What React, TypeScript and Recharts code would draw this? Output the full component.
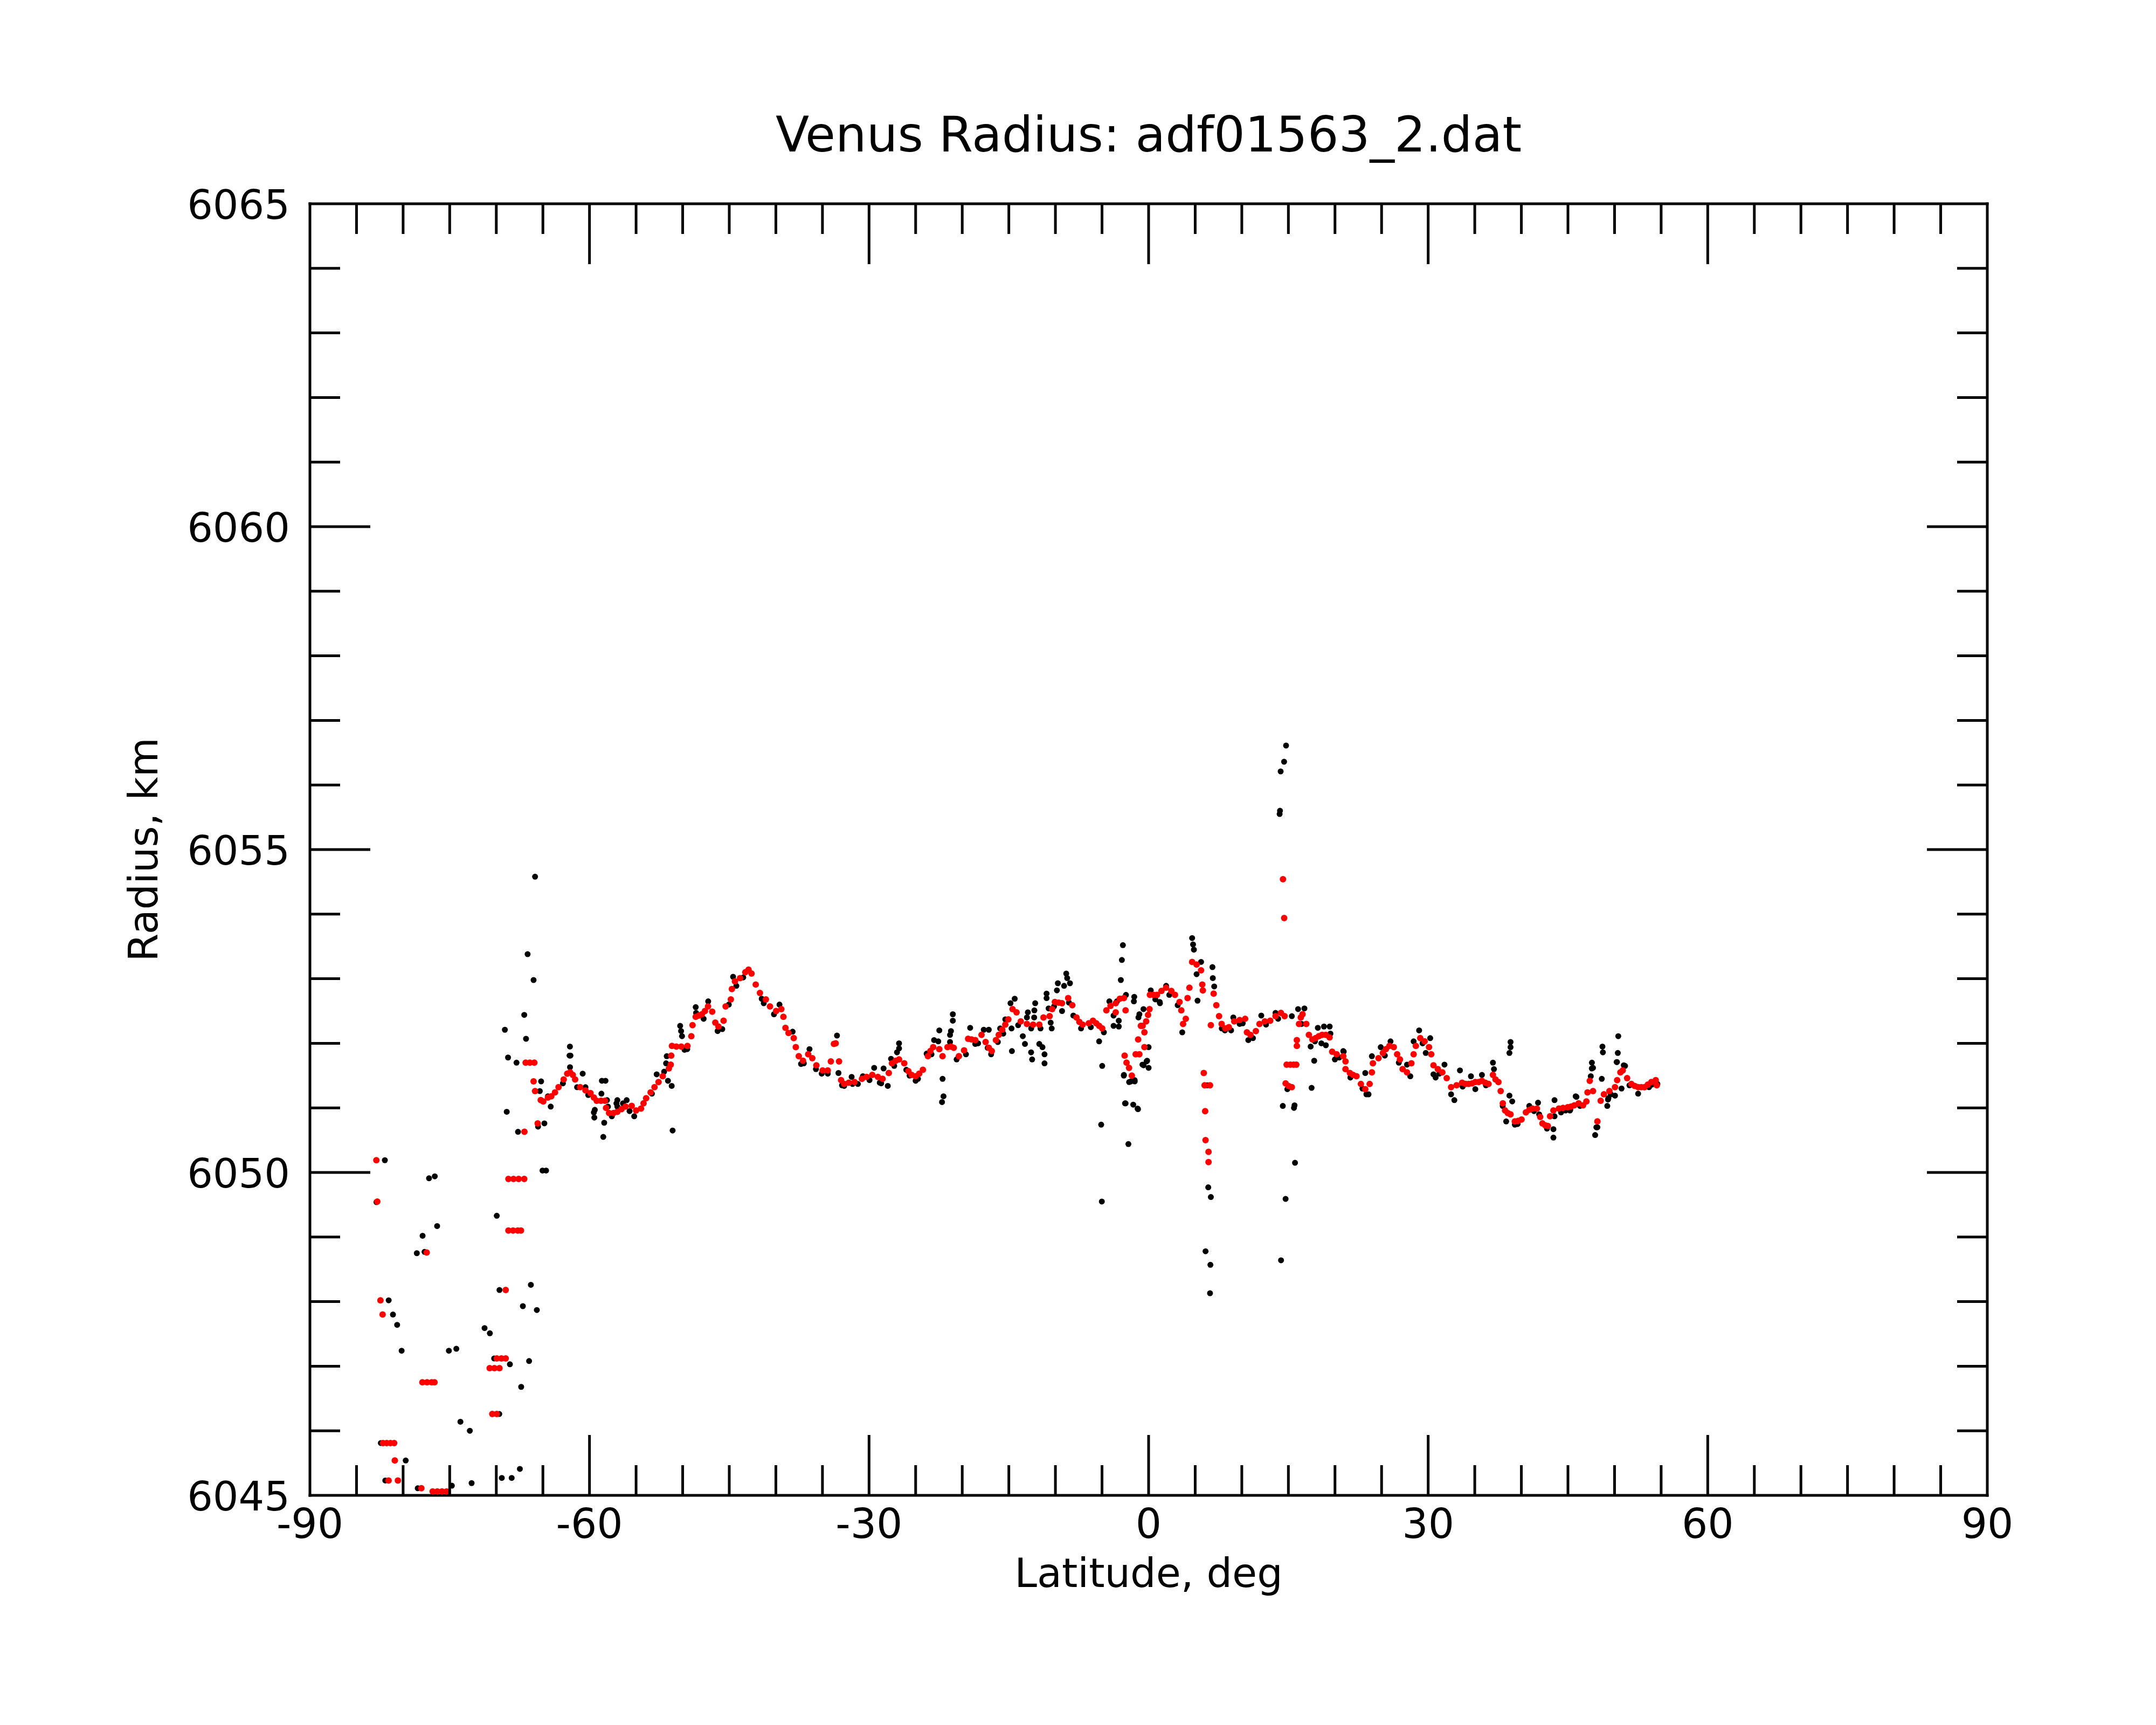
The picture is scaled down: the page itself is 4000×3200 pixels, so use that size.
import React from 'react';
import { Scatter, ScatterChart, XAxis, YAxis } from 'recharts';

// Venus radius profile, latitude vs radius: raw samples (black) and smoothed track (red)

type Pt = [number, number];

// smoothed track, south polar segment
const smoothSouth: Pt[] = [
  [-82.87, 6050.19], [-82.77, 6049.55], [-82.43, 6048.02], [-82.2, 6047.8],
  [-82.16, 6045.81], [-81.76, 6045.81], [-81.56, 6045.23], [-81.36, 6045.81],
  [-80.96, 6045.81], [-80.89, 6045.54], [-80.56, 6045.23], [-78.04, 6045.11],
  [-77.93, 6046.75], [-77.47, 6048.76], [-77.43, 6046.75], [-76.93, 6046.75],
  [-76.63, 6046.75], [-76.83, 6045.06], [-76.33, 6045.06], [-75.83, 6045.06],
  [-75.33, 6045.06], [-70.43, 6046.26], [-69.95, 6046.26], [-70.71, 6046.97],
  [-70.2, 6046.97], [-69.66, 6046.97], [-69.95, 6047.12], [-69.45, 6047.12],
  [-68.99, 6047.12], [-68.99, 6048.18], [-68.7, 6049.1], [-68.2, 6049.1],
  [-67.7, 6049.1], [-67.35, 6049.1], [-68.7, 6049.9], [-68.15, 6049.9],
  [-67.6, 6049.9], [-67.0, 6049.9], [-66.98, 6050.63], [-66.85, 6051.7],
  [-66.4, 6051.7], [-65.92, 6051.7], [-66.0, 6051.41], [-65.84, 6051.26],
  [-65.56, 6050.76], [-65.23, 6051.12],
];

// smoothed track, main segment
const smoothMain: Pt[] = [
  [-64.96, 6051.1], [-64.46, 6051.16], [-64.1, 6051.18], [-63.7, 6051.24], [-63.32, 6051.32],
  [-62.77, 6051.44], [-62.39, 6051.53], [-62.08, 6051.55], [-61.79, 6051.51], [-61.54, 6051.44],
  [-61.0, 6051.32], [-60.43, 6051.27], [-59.89, 6051.23], [-59.53, 6051.16], [-59.23, 6051.11],
  [-58.77, 6051.11], [-58.34, 6051.11], [-58.22, 6051.0], [-57.9, 6050.92], [-57.42, 6050.92],
  [-57.01, 6050.94], [-56.56, 6050.98], [-56.13, 6051.02], [-55.47, 6051.03], [-55.0, 6050.96],
  [-54.47, 6050.99], [-54.2, 6051.07], [-53.92, 6051.15], [-53.44, 6051.24], [-53.02, 6051.32],
  [-52.59, 6051.4], [-52.14, 6051.49], [-51.48, 6051.61], [-51.28, 6051.67], [-51.23, 6051.81],
  [-51.15, 6051.96], [-50.68, 6051.95], [-50.15, 6051.95], [-49.49, 6051.96], [-49.07, 6052.11],
  [-48.94, 6052.28], [-48.6, 6052.41], [-48.26, 6052.43], [-47.94, 6052.45], [-47.61, 6052.5],
  [-47.28, 6052.57], [-46.83, 6052.49], [-46.5, 6052.32], [-46.16, 6052.26], [-45.61, 6052.35],
  [-45.39, 6052.57], [-44.83, 6052.68], [-44.72, 6052.84], [-44.39, 6052.96], [-43.84, 6053.01],
  [-43.28, 6053.1], [-42.93, 6053.14], [-42.61, 6053.08], [-42.16, 6052.91], [-41.71, 6052.78],
  [-41.07, 6052.68], [-40.63, 6052.57], [-39.97, 6052.5], [-39.41, 6052.53], [-39.19, 6052.41],
  [-38.97, 6052.24], [-38.64, 6052.16], [-38.08, 6052.08], [-37.86, 6051.94], [-37.54, 6051.8],
  [-37.09, 6051.73], [-36.53, 6051.83], [-36.09, 6051.77], [-35.65, 6051.66], [-34.98, 6051.58],
  [-34.43, 6051.58], [-34.1, 6051.72], [-33.77, 6051.99], [-33.58, 6052.0], [-33.22, 6051.72],
  [-33.0, 6051.43], [-32.66, 6051.37], [-32.17, 6051.39], [-31.56, 6051.4], [-30.76, 6051.45],
  [-30.26, 6051.48], [-29.65, 6051.51], [-29.05, 6051.48], [-28.55, 6051.45], [-27.88, 6051.54],
  [-27.54, 6051.69], [-27.14, 6051.73], [-26.78, 6051.75], [-26.22, 6051.69], [-25.78, 6051.57],
  [-25.43, 6051.51], [-25.0, 6051.49], [-24.62, 6051.53], [-24.22, 6051.59], [-23.68, 6051.8],
  [-23.42, 6051.88], [-23.12, 6051.94], [-22.46, 6051.91], [-22.11, 6051.8], [-21.58, 6051.94],
  [-21.21, 6051.95], [-20.91, 6051.93], [-20.36, 6051.8], [-19.8, 6051.89], [-19.37, 6052.07],
  [-19.0, 6052.06], [-18.6, 6052.05], [-17.93, 6052.13], [-17.49, 6052.02], [-17.14, 6051.93],
  [-16.83, 6051.88], [-16.38, 6052.05], [-16.08, 6052.13], [-15.71, 6052.21], [-15.38, 6052.29],
  [-15.05, 6052.37], [-14.6, 6052.53], [-14.17, 6052.48], [-13.72, 6052.34], [-13.06, 6052.3],
  [-12.39, 6052.29], [-11.73, 6052.29], [-11.28, 6052.4], [-10.62, 6052.42], [-10.35, 6052.53],
  [-10.06, 6052.64], [-9.64, 6052.63], [-9.29, 6052.62], [-8.63, 6052.7], [-8.19, 6052.59],
  [-7.74, 6052.4], [-7.43, 6052.33], [-7.08, 6052.29], [-6.42, 6052.31], [-5.97, 6052.35],
  [-5.62, 6052.31], [-5.31, 6052.27], [-4.98, 6052.23], [-4.53, 6052.51], [-4.09, 6052.58],
  [-3.53, 6052.62], [-3.53, 6052.48], [-3.09, 6052.69], [-2.65, 6052.7], [-2.47, 6052.51],
  [-2.57, 6051.81], [-2.37, 6051.7], [-2.1, 6051.62], [-1.8, 6051.5], [-1.39, 6051.83],
  [-0.99, 6051.83], [-1.12, 6052.06], [-0.45, 6051.94], [-0.83, 6052.27], [-0.64, 6052.27],
  [-0.45, 6052.17], [-0.26, 6052.34], [-0.06, 6052.44], [0.1, 6052.53], [0.14, 6052.75],
  [0.52, 6052.75], [0.9, 6052.75], [1.38, 6052.81], [1.87, 6052.86], [2.44, 6052.81],
  [2.83, 6052.75], [3.32, 6052.64], [3.51, 6052.51], [3.7, 6052.3], [3.99, 6052.38],
  [4.18, 6052.7], [4.38, 6052.86], [4.67, 6053.26], [5.15, 6053.22], [5.63, 6053.13],
  [5.76, 6052.91], [5.82, 6052.82], [5.92, 6051.54], [6.01, 6051.35], [6.59, 6051.35],
  [6.07, 6050.95], [6.11, 6050.5], [6.43, 6050.32], [6.43, 6050.16], [6.68, 6052.28],
  [6.98, 6052.77], [7.27, 6052.59], [7.56, 6052.42], [7.84, 6052.3], [8.23, 6052.23],
  [8.61, 6052.25], [9.19, 6052.34], [9.77, 6052.36], [10.36, 6052.38], [10.55, 6052.17],
  [10.93, 6052.13], [11.51, 6052.19], [11.9, 6052.3], [12.47, 6052.34], [13.05, 6052.35],
  [13.62, 6052.42], [14.2, 6052.47], [14.59, 6052.42], [14.42, 6054.54], [14.55, 6053.94],
  [14.81, 6051.67], [15.21, 6051.67], [15.56, 6051.67], [15.85, 6051.67], [14.7, 6051.38],
  [15.01, 6051.34], [15.37, 6051.32], [15.91, 6051.96], [15.91, 6052.05], [16.14, 6052.3],
  [16.33, 6052.4], [16.52, 6052.45], [16.92, 6052.3], [17.2, 6052.13], [17.58, 6052.06],
  [17.92, 6052.08], [18.26, 6052.11], [18.62, 6052.13], [19.02, 6052.13], [19.42, 6052.09],
  [19.7, 6051.87], [20.18, 6051.83], [20.89, 6051.8], [21.13, 6051.72], [21.13, 6051.6],
  [21.6, 6051.54], [21.94, 6051.51], [22.31, 6051.49], [22.78, 6051.37], [23.25, 6051.29],
  [23.72, 6051.37], [23.96, 6051.55], [24.07, 6051.69], [24.67, 6051.77], [25.14, 6051.85],
  [25.46, 6051.91], [25.84, 6051.96], [26.31, 6051.94], [26.67, 6051.83], [26.97, 6051.75],
  [27.26, 6051.6], [27.73, 6051.55], [28.2, 6051.69], [28.44, 6051.83], [28.68, 6051.96],
  [29.15, 6052.08], [29.62, 6052.03], [30.09, 6051.94], [30.33, 6051.83], [30.57, 6051.66],
  [31.04, 6051.6], [31.52, 6051.55], [31.99, 6051.46], [32.46, 6051.32], [33.05, 6051.35],
  [33.64, 6051.39], [34.01, 6051.37], [34.35, 6051.37], [34.72, 6051.38], [35.06, 6051.4],
  [35.42, 6051.4], [35.77, 6051.42], [36.13, 6051.39], [36.48, 6051.37], [36.95, 6051.51],
  [37.23, 6051.44], [37.54, 6051.4], [37.78, 6051.26], [38.01, 6051.07], [38.25, 6050.96],
  [38.54, 6050.92], [38.84, 6050.9], [39.3, 6050.79], [39.65, 6050.8], [40.02, 6050.82],
  [40.49, 6050.93], [40.86, 6050.97], [41.2, 6050.99], [41.67, 6050.99], [42.02, 6050.86],
  [42.26, 6050.76], [42.56, 6050.73], [42.84, 6050.72], [43.08, 6050.87], [43.44, 6050.96],
  [44.03, 6050.99], [44.47, 6051.0], [44.97, 6051.01], [45.33, 6051.02], [45.68, 6051.04],
  [46.15, 6051.07], [46.62, 6051.04], [46.98, 6051.1], [47.1, 6051.24], [47.34, 6051.42],
  [47.69, 6051.26], [48.16, 6050.79], [48.51, 6051.11], [48.86, 6051.21], [49.45, 6051.26],
  [50.05, 6051.32], [50.28, 6051.43], [50.63, 6051.55], [50.88, 6051.58], [51.35, 6051.46],
  [51.81, 6051.37], [52.16, 6051.34], [52.53, 6051.32], [52.87, 6051.32], [53.23, 6051.32],
  [53.57, 6051.36], [53.95, 6051.4], [54.42, 6051.43], [54.53, 6051.35],
];

// raw samples, south polar segment
const rawSouth: Pt[] = [
  [-82.86, 6049.54], [-81.96, 6050.19], [-81.55, 6048.02], [-81.09, 6047.8], [-80.64, 6047.64],
  [-80.16, 6047.24], [-79.72, 6045.54], [-78.53, 6048.75], [-77.91, 6049.02], [-77.7, 6048.77],
  [-77.22, 6049.91], [-76.6, 6049.94], [-76.35, 6049.17], [-75.09, 6047.24], [-74.29, 6047.27],
  [-73.85, 6046.14], [-72.84, 6046.0], [-72.65, 6045.19], [-74.77, 6045.15], [-71.26, 6047.59],
  [-70.69, 6047.51], [-69.95, 6049.33], [-70.23, 6047.12], [-69.66, 6048.18], [-69.68, 6046.26],
  [-68.54, 6047.03], [-67.33, 6046.68], [-66.48, 6047.08], [-66.29, 6048.26], [-67.15, 6047.93],
  [-65.65, 6047.87], [-69.41, 6045.27], [-68.35, 6045.27], [-67.47, 6045.41], [-81.91, 6045.23],
  [-82.39, 6045.81], [-78.43, 6045.11], [-65.52, 6050.71], [-64.84, 6050.76], [-65.84, 6054.58],
  [-66.64, 6053.38], [-66.0, 6052.98], [-67.0, 6052.44], [-66.81, 6052.07], [-69.08, 6052.21],
  [-68.74, 6051.78], [-67.83, 6051.7], [-68.88, 6050.94], [-67.67, 6050.63], [-65.19, 6051.41],
  [-65.33, 6051.26], [-65.04, 6050.03], [-64.66, 6050.03],
];

// raw samples, main segment
const rawMain: Pt[] = [
  [-62.1, 6051.95], [-62.14, 6051.81], [-62.04, 6051.81], [-62.09, 6051.63], [-58.67, 6051.42],
  [-58.28, 6051.42], [-58.72, 6051.22], [-58.12, 6051.12], [-59.43, 6050.97], [-59.53, 6050.93],
  [-59.48, 6050.85], [-58.42, 6050.77], [-58.52, 6050.55], [-58.02, 6051.02], [-57.11, 6051.07],
  [-64.46, 6051.18], [-64.16, 6051.02], [-61.33, 6051.32], [-60.73, 6051.53], [-60.43, 6051.32],
  [-57.01, 6051.12], [-57.01, 6051.02], [-56.01, 6051.12], [-56.41, 6051.07], [-55.2, 6050.87],
  [-52.79, 6051.52], [-51.99, 6051.56], [-51.71, 6051.8], [-51.78, 6051.69], [-51.58, 6051.42],
  [-51.18, 6051.34], [-51.08, 6050.65], [-50.27, 6052.27], [-50.17, 6052.19], [-50.07, 6052.11],
  [-49.51, 6051.91], [-48.6, 6052.56], [-48.56, 6052.47], [-47.26, 6052.65], [-46.25, 6052.19],
  [-45.75, 6052.22], [-44.59, 6053.03], [-44.24, 6052.89], [-41.52, 6052.69], [-39.61, 6052.6],
  [-38.2, 6052.18], [-36.39, 6051.91], [-37.0, 6051.69], [-35.08, 6051.53], [-34.43, 6051.53],
  [-33.44, 6052.12], [-33.28, 6051.54], [-32.67, 6051.34], [-31.77, 6051.37], [-31.87, 6051.48],
  [-30.66, 6051.49], [-29.45, 6051.62], [-28.44, 6051.61], [-28.85, 6051.39], [-27.99, 6051.34],
  [-27.64, 6051.76], [-27.0, 6051.86], [-26.78, 6052.0], [-26.78, 6051.92], [-26.0, 6051.59],
  [-25.0, 6051.42], [-23.82, 6051.84], [-23.02, 6052.05], [-22.57, 6052.03], [-22.46, 6052.2],
  [-22.11, 6051.45], [-22.01, 6051.18], [-22.17, 6051.09], [-21.31, 6052.02], [-21.31, 6052.13],
  [-21.21, 6052.19], [-21.01, 6052.35], [-21.01, 6052.45], [-19.15, 6052.24], [-18.6, 6051.99],
  [-17.69, 6052.21], [-17.15, 6052.21], [-17.27, 6051.93], [-16.18, 6052.02], [-15.93, 6052.23],
  [-15.38, 6052.37], [-14.82, 6052.62], [-14.37, 6052.69], [-14.71, 6052.23], [-14.67, 6051.88],
  [-13.5, 6052.11], [-13.27, 6051.99], [-12.61, 6051.86], [-12.5, 6051.75], [-11.17, 6051.83],
  [-11.17, 6051.69], [-11.73, 6051.99], [-11.39, 6051.94], [-12.17, 6052.62], [-12.26, 6052.51],
  [-12.96, 6052.48], [-13.06, 6052.4], [-12.28, 6052.4], [-10.95, 6052.77], [-10.95, 6052.7],
  [-10.73, 6052.54], [-10.51, 6052.32], [-10.4, 6052.23], [-9.84, 6052.82], [-9.74, 6052.93],
  [-9.29, 6052.5], [-9.07, 6052.89], [-8.84, 6053.08], [-8.74, 6053.01], [-8.44, 6052.93],
  [-8.08, 6052.43], [-5.31, 6052.03], [-4.98, 6051.65], [-4.21, 6052.65], [-3.4, 6052.65],
  [-3.76, 6052.27], [-3.76, 6052.43], [-3.2, 6052.26], [-3.2, 6052.35], [-2.43, 6052.75],
  [-1.54, 6052.72], [-1.58, 6052.65], [-0.99, 6052.45], [-0.55, 6052.53], [-1.09, 6052.4],
  [0.0, 6051.94], [-0.16, 6051.73], [-0.54, 6051.66], [-0.66, 6051.67], [0.0, 6051.62],
  [-0.22, 6051.72], [-2.65, 6051.51], [-2.66, 6051.5], [-2.09, 6051.4], [-1.9, 6051.41],
  [-1.5, 6051.43], [-1.49, 6051.41], [-2.47, 6051.07], [-2.53, 6051.07], [-1.65, 6051.05],
  [-1.18, 6050.99], [-1.14, 6050.98], [0.23, 6052.82], [1.22, 6052.62], [1.19, 6052.64],
  [1.88, 6052.89], [3.61, 6052.17], [5.15, 6053.07], [5.25, 6052.66], [5.63, 6053.26],
  [6.3, 6051.35], [8.19, 6052.2], [9.09, 6052.4], [9.77, 6052.3], [10.7, 6052.05],
  [12.09, 6052.43], [13.62, 6052.47], [15.37, 6052.42], [16.04, 6052.53], [16.72, 6052.54],
  [16.42, 6052.3], [14.89, 6051.29], [14.4, 6051.03], [15.6, 6051.0], [15.66, 6051.04],
  [17.49, 6051.31], [17.77, 6051.73], [17.39, 6051.95], [18.16, 6052.24], [18.82, 6052.26],
  [19.43, 6052.26], [18.54, 6052.0], [19.02, 6051.97], [19.51, 6052.15], [19.99, 6051.75],
  [20.94, 6051.87], [20.89, 6051.88], [23.25, 6051.54], [23.37, 6051.21], [23.6, 6051.21],
  [23.96, 6051.8], [24.91, 6051.94], [25.96, 6052.03], [27.73, 6051.67], [28.08, 6051.49],
  [28.44, 6052.03], [29.03, 6052.2], [30.22, 6052.08], [29.74, 6051.85], [30.57, 6051.52],
  [30.8, 6051.47], [31.75, 6051.67], [32.46, 6051.21], [32.81, 6051.12], [33.41, 6051.58],
  [34.59, 6051.49], [35.77, 6051.51], [35.06, 6051.29], [36.95, 6051.7], [37.06, 6051.6],
  [38.72, 6051.19], [39.02, 6051.1], [38.37, 6050.79], [39.3, 6050.74], [40.85, 6051.03],
  [41.79, 6051.08], [41.91, 6050.9], [43.56, 6051.12], [43.56, 6050.87], [43.44, 6050.54],
  [43.44, 6050.67], [44.26, 6050.93], [45.21, 6050.96], [45.91, 6051.17], [45.83, 6051.18],
  [45.25, 6050.97], [47.57, 6051.7], [47.69, 6051.62], [47.45, 6051.49], [47.56, 6051.61],
  [48.7, 6051.95], [48.75, 6051.86], [48.63, 6051.45], [47.92, 6050.58], [48.16, 6050.7],
  [48.05, 6050.7], [49.22, 6051.03], [49.34, 6051.15], [49.3, 6051.13], [50.05, 6051.19],
  [50.4, 6052.11], [50.35, 6051.85], [50.23, 6051.71], [50.26, 6051.71], [50.75, 6051.3],
  [50.99, 6051.66], [51.13, 6051.65], [52.53, 6051.22], [53.7, 6051.32],
];

// raw samples sitting just under the smoothed track
const rawTrack: Pt[] = [
  [-62.85, 6051.38], [-60.13, 6051.2], [-57.6, 6050.87], [-55.7, 6050.95], [-53.3, 6051.22],
  [-49.8, 6051.9], [-47.75, 6052.38], [-45.05, 6052.6], [-43.5, 6053.02], [-41.3, 6052.62],
  [-40.2, 6052.45], [-37.3, 6051.68], [-35.7, 6051.6], [-32.9, 6051.35], [-31.2, 6051.37],
  [-29.95, 6051.43], [-28.7, 6051.38], [-27.3, 6051.65], [-25.65, 6051.5], [-24.75, 6051.45],
  [-23.3, 6051.83], [-20.6, 6051.75], [-19.6, 6051.83], [-18.3, 6052.0], [-16.9, 6051.83],
  [-15.6, 6052.15], [-14.0, 6052.28], [-12.6, 6052.23], [-11.6, 6052.23], [-10.15, 6052.57],
  [-8.55, 6052.63], [-7.25, 6052.23], [-6.2, 6052.25], [-4.8, 6052.17], [0.72, 6052.68],
  [2.22, 6052.75], [3.12, 6052.59], [7.85, 6052.23], [8.85, 6052.2], [10.1, 6052.31],
  [11.2, 6052.08], [12.6, 6052.29], [13.9, 6052.38], [17.85, 6052.03], [20.45, 6051.78],
  [21.65, 6051.47], [22.95, 6051.3], [25.35, 6051.81], [26.85, 6051.7], [29.4, 6052.0],
  [31.2, 6051.53], [33.7, 6051.33], [36.2, 6051.35], [38.0, 6051.03], [39.6, 6050.75],
  [41.35, 6050.95], [42.75, 6050.68], [44.75, 6050.96], [46.3, 6051.03], [49.6, 6051.21],
  [51.6, 6051.35], [54.0, 6051.36], [54.6, 6051.37],
];

// isolated raw outliers
const rawOutliers: Pt[] = [
  [-2.76, 6053.52], [-2.87, 6053.29], [-2.98, 6052.98], [-5.09, 6050.74], [-5.02, 6049.55],
  [-2.17, 6050.44], [4.67, 6053.63], [4.77, 6053.53], [4.86, 6053.45], [6.85, 6053.18],
  [6.89, 6053.01], [7.04, 6052.88], [6.4, 6049.77], [6.68, 6049.62], [6.11, 6048.78],
  [6.63, 6048.57], [6.59, 6048.13], [15.71, 6050.15], [14.7, 6049.59], [14.21, 6048.64],
  [14.75, 6056.61], [14.54, 6056.36], [14.17, 6056.21], [14.06, 6055.55], [14.1, 6055.6],
  [38.84, 6052.02], [38.84, 6051.94], [38.72, 6051.85],
];

const xTicks = [-90, -85, -80, -75, -70, -65, -60, -55, -50, -45, -40, -35, -30, -25, -20, -15, -10, -5,
  0, 5, 10, 15, 20, 25, 30, 35, 40, 45, 50, 55, 60, 65, 70, 75, 80, 85, 90];
const yTicks = [6045, 6046, 6047, 6048, 6049, 6050, 6051, 6052, 6053, 6054, 6055,
  6056, 6057, 6058, 6059, 6060, 6061, 6062, 6063, 6064, 6065];

const toRows = (pts: Pt[]) => pts.map(([lat, r]) => ({ lat, r }));
const rawRows = toRows([...rawSouth, ...rawMain, ...rawTrack, ...rawOutliers]);
const smoothRows = toRows([...smoothSouth, ...smoothMain]);

const FONT = '"DejaVu Sans", sans-serif';
const MAJOR = 112;
const MINOR = 56;
const frame = { stroke: '#000', strokeWidth: 5, strokeLinecap: 'square' as const };

const xTick = (side: 'top' | 'bottom') => (props: any) => {
  const { x, y, payload } = props;
  const v = payload.value as number;
  const major = v % 30 === 0;
  const len = major ? MAJOR : MINOR;
  const edge = v === -90 || v === 90;
  const dir = side === 'bottom' ? -1 : 1;
  return (
    <g>
      {!edge && <line x1={x} y1={y} x2={x} y2={y + dir * len} stroke="#000" strokeWidth={5} />}
      {side === 'bottom' && major && (
        <text x={x} y={y + 79} textAnchor="middle" fontSize={76} fontFamily={FONT} fill="#000">
          {v}
        </text>
      )}
    </g>
  );
};

const yTick = (side: 'left' | 'right') => (props: any) => {
  const { x, y, payload } = props;
  const v = payload.value as number;
  const major = (v - 6045) % 5 === 0;
  const len = major ? MAJOR : MINOR;
  const edge = v === 6045 || v === 6065;
  const dir = side === 'left' ? 1 : -1;
  return (
    <g>
      {!edge && <line x1={x} y1={y} x2={x + dir * len} y2={y} stroke="#000" strokeWidth={5} />}
      {side === 'left' && major && (
        <text x={x - 37} y={y + 28} textAnchor="end" fontSize={75} fontFamily={FONT} fill="#000">
          {v}
        </text>
      )}
    </g>
  );
};

const rawDot = (p: any) => <circle cx={p.cx} cy={p.cy} r={5.5} fill="#000" />;
const smoothDot = (p: any) => <circle cx={p.cx} cy={p.cy} r={6} fill="#ff0000" />;

export default function App() {
  return (
    <div style={{ position: 'absolute', left: 0, top: 0, width: 4000, height: 3200, background: '#fff' }}>
      <ScatterChart width={4000} height={3200} margin={{ top: 377, right: 312, bottom: 425, left: 574 }}>
        <XAxis xAxisId="bottom" type="number" dataKey="lat" domain={[-90, 90]} ticks={xTicks}
          interval={0} height={1} tickSize={0} tickMargin={0} axisLine={frame} tickLine={false}
          tick={xTick('bottom')} />
        <XAxis xAxisId="top" orientation="top" type="number" dataKey="lat" domain={[-90, 90]} ticks={xTicks}
          interval={0} height={1} tickSize={0} tickMargin={0} axisLine={frame} tickLine={false}
          tick={xTick('top')} />
        <YAxis yAxisId="left" type="number" dataKey="r" domain={[6045, 6065]} ticks={yTicks}
          interval={0} width={1} tickSize={0} tickMargin={0} axisLine={frame} tickLine={false}
          tick={yTick('left')} />
        <YAxis yAxisId="right" orientation="right" type="number" dataKey="r" domain={[6045, 6065]} ticks={yTicks}
          interval={0} width={1} tickSize={0} tickMargin={0} axisLine={frame} tickLine={false}
          tick={yTick('right')} />
        <Scatter data={rawRows} xAxisId="bottom" yAxisId="left" shape={rawDot} isAnimationActive={false} />
        <Scatter data={smoothRows} xAxisId="top" yAxisId="right" shape={smoothDot} isAnimationActive={false} />
      </ScatterChart>
      <svg width={4000} height={3200} style={{ position: 'absolute', left: 0, top: 0, pointerEvents: 'none' }}>
        <text x={2131} y={281} textAnchor="middle" fontSize={91} fontFamily={FONT} fill="#000">
          Venus Radius: adf01563_2.dat
        </text>
        <text x={2131} y={2944} textAnchor="middle" fontSize={75} fontFamily={FONT} fill="#000">
          Latitude, deg
        </text>
        <text x={292} y={1576} textAnchor="middle" fontSize={75} fontFamily={FONT} fill="#000"
          transform="rotate(-90 292 1576)">
          Radius, km
        </text>
      </svg>
    </div>
  );
}
